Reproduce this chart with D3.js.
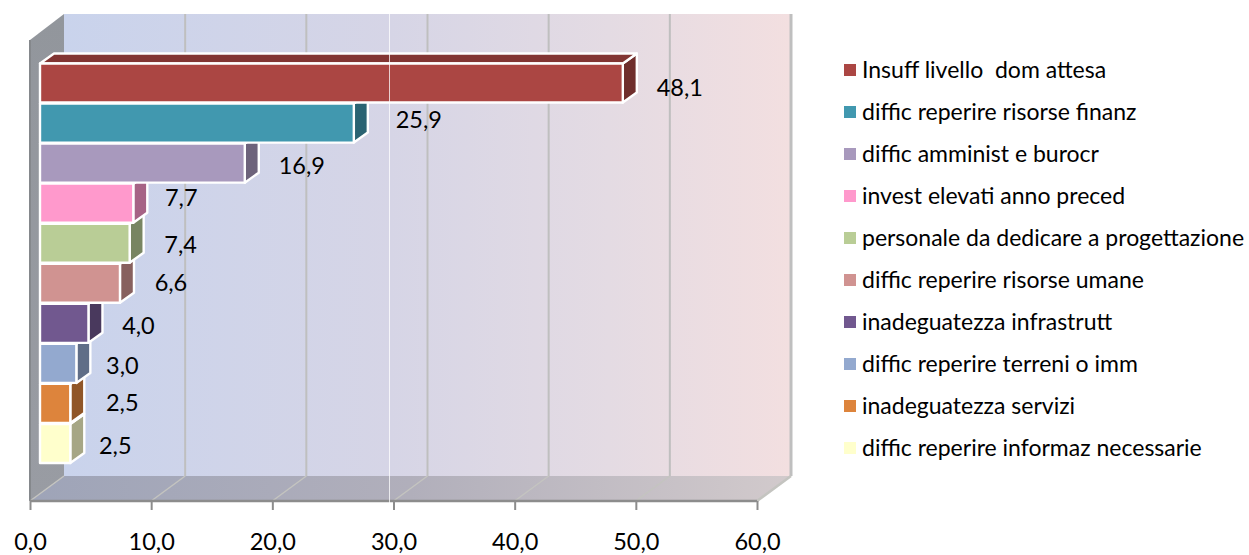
<!DOCTYPE html>
<html><head><meta charset="utf-8">
<script src="https://cdn.jsdelivr.net/npm/d3@7"></script>
<style>html,body{margin:0;padding:0;background:#fff}svg{display:block}text{font-family:Lato,sans-serif;fill:#000}</style>
</head><body><div id="c"></div>
<script>
const categories=["Insuff livello  dom attesa","diffic reperire risorse finanz","diffic amminist e burocr","invest elevati anno preced","personale da dedicare a progettazione","diffic reperire risorse umane","inadeguatezza infrastrutt","diffic reperire terreni o imm","inadeguatezza servizi","diffic reperire informaz necessarie"];
const values=[48.1,25.9,16.9,7.7,7.4,6.6,4.0,3.0,2.5,2.5];
const colors=["#ab4643","#4198af","#a899bd","#ff99cc","#b9cd96","#d09391","#71588f","#93a9cf","#dd843c","#ffffcc"];
const tickValues=[0,10,20,30,40,50,60];
const labelNudgeX=[57,65,57,48,51,51,50,46,52,45];
const labelNudgeY=[4,-4,2,-6,1,-1,2,2,-1,2];

const W=1249,H=555;
const svg=d3.select("#c").append("svg").attr("width",W).attr("height",H);
const x=d3.scaleLinear().domain([0,60]).range([30,757]);
const y=d3.scaleBand().domain(categories).range([63.5,464]).padding(0);
const floorY=501,topY=40,depthX=34,depthY=25,barOffX=10,barDX=14,barDY=10;
const fmt=v=>d3.format(".1f")(v).replace(".",",");
const shade=(c,f)=>{const r=d3.rgb(c);return d3.rgb(r.r*f,r.g*f,r.b*f).formatHex();};
const defs=svg.append("defs");
function grad(id,stops){const g=defs.append("linearGradient").attr("id",id);
  stops.forEach(([o,c])=>g.append("stop").attr("offset",o).attr("stop-color",c));}
grad("wall",[[0,"#c9d3ec"],[.45,"#d6d5e6"],[.75,"#e4dbe3"],[1,"#f3dfe0"]]);
grad("floor",[[0,"#9ea4b8"],[.5,"#b1afbb"],[1,"#d2cacc"]]);
const lw=defs.append("linearGradient").attr("id","left").attr("x1",0).attr("x2",0).attr("y1",0).attr("y2",1);
lw.append("stop").attr("offset",0).attr("stop-color","#92969c");
lw.append("stop").attr("offset",1).attr("stop-color","#999ca3");
const line=d3.line();
const x0=x(0),x1=x(60);
// walls
svg.append("path").attr("d",line([[x0+depthX,floorY-depthY],[x1+depthX,floorY-depthY],[x1+depthX,topY-depthY-1],[x0+depthX,topY-depthY-1]])+"Z").attr("fill","url(#wall)");
svg.append("path").attr("d",line([[x0,floorY],[x1,floorY],[x1+depthX,floorY-depthY],[x0+depthX,floorY-depthY]])+"Z").attr("fill","url(#floor)");
svg.append("path").attr("d",line([[x0,topY],[x0+depthX,topY-depthY-1],[x0+depthX,floorY-depthY],[x0,floorY]])+"Z").attr("fill","url(#left)");
svg.append("line").attr("x1",x0).attr("x2",x0).attr("y1",topY).attr("y2",floorY).attr("stroke","#85888c").attr("stroke-width",2);
// gridlines
tickValues.forEach(t=>{
  if(t>0) svg.append("line").attr("x1",x(t)+depthX).attr("x2",x(t)+depthX).attr("y1",topY-depthY-1).attr("y2",floorY-depthY).attr("stroke","#bfbfbf").attr("stroke-width",t==60?3:2);
  svg.append("line").attr("x1",x(t)).attr("x2",x(t)+depthX).attr("y1",floorY).attr("y2",floorY-depthY).attr("stroke","#c4c4c0").attr("stroke-width",t==60?2.5:1.5);
});
// axis
const axis=d3.axisBottom(x).tickValues(tickValues).tickFormat(fmt).tickSize(9).tickPadding(23);
const ag=svg.append("g").attr("transform",`translate(0,${floorY})`).call(axis);
ag.select(".domain").attr("stroke","#8c8c8c").attr("stroke-width",2.5).attr("d",`M${x0},0H${x1}`);
ag.selectAll(".tick line").attr("stroke","#8c8c8c").attr("stroke-width",2);
ag.selectAll(".tick text").attr("font-size",23.5).style("font-family","Lato,sans-serif").attr("fill","#000");
// bars, drawn lowest first so upper bars overlap
const data=categories.map((c,i)=>({c,v:values[i],col:colors[i],i}));
const bars=svg.selectAll("g.bar").data(data.slice().reverse()).join("g").attr("class","bar");
const st=s=>s.attr("stroke","#fff").attr("stroke-width",2.4).attr("stroke-linejoin","round");
const bx=barOffX+x0, bw=d=>x(d.v)-x0;
bars.append("path").call(st).attr("fill",d=>shade(d.col,.65)).attr("d",d=>{const r=bx+bw(d),t=y(d.c),b=t+y.bandwidth()-1;
  return line([[r,t],[r+barDX,t-barDY],[r+barDX,b-barDY],[r,b]])+"Z";});
bars.append("path").call(st).attr("fill",d=>shade(d.col,.76)).attr("d",d=>{const r=bx+bw(d),t=y(d.c);
  return line([[bx,t],[bx+barDX,t-barDY],[r+barDX,t-barDY],[r,t]])+"Z";});
bars.append("rect").call(st).attr("x",bx).attr("y",d=>y(d.c)).attr("width",bw).attr("height",y.bandwidth()-1).attr("fill",d=>d.col);
// thin white line artefact
svg.append("line").attr("x1",389.5).attr("x2",389.5).attr("y1",topY-depthY-1).attr("y2",503).attr("stroke","#fff").attr("stroke-opacity",.75).attr("stroke-width",1);
// value labels
svg.selectAll("text.val").data(data).join("text").attr("class","val").attr("text-anchor","middle")
 .attr("font-size",23.5).attr("x",d=>x(d.v)+barOffX+labelNudgeX[d.i]).attr("y",d=>y(d.c)+y.bandwidth()/2+labelNudgeY[d.i]).attr("dy","0.35em").text(d=>fmt(d.v));
// legend
const ly=d3.scalePoint().domain(categories).range([70,448]);
const lg=svg.selectAll("g.lg").data(data).join("g").attr("class","lg").attr("transform",d=>`translate(844,${ly(d.c)})`);
lg.append("rect").attr("x",0).attr("y",-6).attr("width",12).attr("height",12).attr("fill",d=>d.col);
lg.append("text").attr("x",18).attr("dy","0.35em").attr("font-size",23).style("white-space","pre").text(d=>d.c);
</script></body></html>
